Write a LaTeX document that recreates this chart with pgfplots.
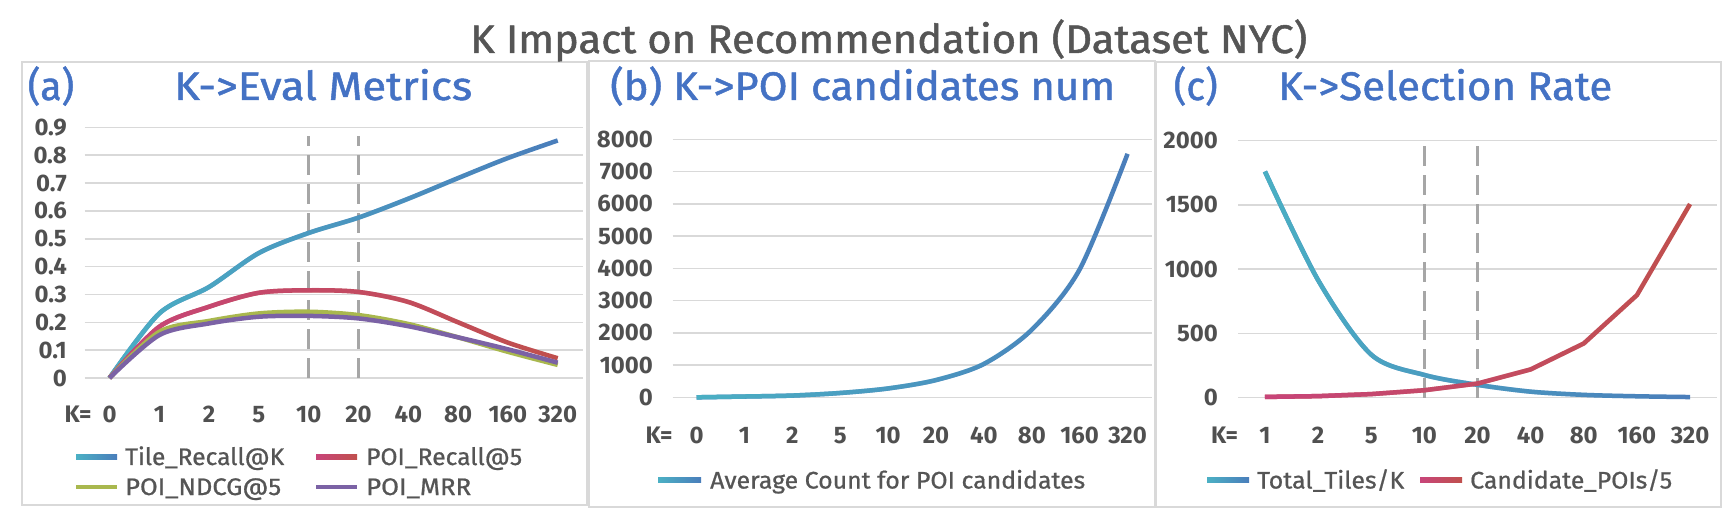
\documentclass[border=0pt]{standalone}
\usepackage{pgfplots}
\pgfplotsset{compat=1.18}
\usepackage{fontspec}
\setmainfont{Fira Sans}
\newfontfamily\medfont[FakeBold=1.2]{Fira Sans}
\newfontfamily\legfont[FakeBold=0.8]{Fira Sans}
\usetikzlibrary{fadings}
\newlength\fitlen
\DeclareRobustCommand\fitw[2]{\settowidth\fitlen{#2}\pgfmathsetmacro\fitr{#1/\fitlen}\scalebox{\fitr}[1]{#2}}
\definecolor{titlegray}{HTML}{555555}
\definecolor{tickgray}{HTML}{505050}
\definecolor{gridgray}{HTML}{D9D9D9}
\definecolor{ttlblue}{HTML}{4472C4}
\definecolor{tealc}{HTML}{4BB0C4}
\definecolor{bluec}{HTML}{4A7EBB}
\definecolor{pinkc}{HTML}{C8457A}
\definecolor{redc}{HTML}{C0504D}
\definecolor{olivec}{HTML}{A9B84E}
\definecolor{purplec}{HTML}{7B62A5}
\definecolor{dashgray}{HTML}{A6A6A6}
\pgfplotsset{
  myaxis/.style={
    scale only axis, anchor=south west, clip=false,
    axis line style={draw=none},
    ymajorgrids, grid style={gridgray, line width=1.5bp},
    major tick length=0pt, tick style={draw=none},
    ticklabel style={font=\fontsize{24}{28}\selectfont\bfseries, text=tickgray},
    /pgf/number format/assume math mode=true,
    xticklabel style={anchor=base, inner sep=0pt},
    yticklabel style={anchor=east, inner sep=0pt},
  },
  curve/.style={line width=4.5bp, smooth},
  dashv/.style={dashgray, line width=2.5bp, dash pattern=on 20bp off 9bp, forget plot},
}
\begin{document}
\begin{tikzpicture}
\fill[white] (0bp,0bp) rectangle (1727bp,511bp);
\path[use as bounding box] (0bp,0bp) rectangle (1727bp,511bp);
% panel frames
\draw[gridgray, line width=1.5bp] (22bp,449bp) rectangle (587bp,6bp);
\draw[gridgray, line width=1.5bp] (589bp,450bp) rectangle (1155bp,4bp);
\draw[gridgray, line width=1.5bp] (1156bp,449bp) rectangle (1721bp,4bp);
% titles
\node[anchor=base west, inner sep=0pt, font=\fontsize{40}{48}\medfont, text=titlegray] at (470bp,458bp) {\fitw{837bp}{K Impact on Recommendation (Dataset NYC)}};
\begin{scope}[every node/.style={anchor=base west, inner sep=0pt, font=\fontsize{40}{48}\medfont, text=ttlblue}]
\node at (27.5bp,411bp) {\fitw{46.5bp}{(a)}};
\node at (174bp,411bp) {\fitw{298bp}{K->Eval Metrics}};
\node at (610bp,411bp) {\fitw{505bp}{(b) K->POI candidates num}};
\node at (1173.5bp,411bp) {\fitw{44bp}{(c)}};
\node at (1278bp,411bp) {\fitw{334bp}{K->Selection Rate}};
\end{scope}
\begin{scope}[every node/.style={anchor=base, inner sep=0pt, font=\fontsize{24}{28}\selectfont\bfseries, text=tickgray}]
\node at (78bp,88.5bp) {K=};
\node at (659bp,67.5bp) {K=};
\node at (1224.5bp,67.5bp) {K=};
\end{scope}
% legends
\begin{scope}[every node/.style={anchor=base west, inner sep=0pt, font=\fontsize{24}{28}\legfont, text=titlegray}]
\shade[left color=tealc, right color=bluec] (76bp,51.8bp) rectangle (117bp,56.2bp);
\node at (125bp,46bp) {\fitw{159bp}{Tile\_Recall@K}};
\shade[left color=pinkc, right color=redc] (316bp,51.8bp) rectangle (357bp,56.2bp);
\node at (366bp,46bp) {\fitw{156bp}{POI\_Recall@5}};
\fill[olivec] (76bp,21.8bp) rectangle (117bp,26.2bp);
\node at (125bp,16bp) {\fitw{156bp}{POI\_NDCG@5}};
\fill[purplec] (316bp,21.8bp) rectangle (357bp,26.2bp);
\node at (366bp,16bp) {\fitw{105bp}{POI\_MRR}};
\shade[left color=tealc, right color=bluec] (658bp,28.8bp) rectangle (701bp,33.2bp);
\node at (710bp,22.5bp) {\fitw{375bp}{Average Count for POI candidates}};
\shade[left color=tealc, right color=bluec] (1207bp,28.8bp) rectangle (1249bp,33.2bp);
\node at (1257bp,22.5bp) {\fitw{147bp}{Total\_Tiles/K}};
\shade[left color=pinkc, right color=redc] (1420bp,28.8bp) rectangle (1462bp,33.2bp);
\node at (1470bp,22.5bp) {\fitw{202bp}{Candidate\_POIs/5}};
\end{scope}

% ---------- (a)
\begin{axis}[myaxis, at={(84.6bp,133bp)}, width=498bp, height=250.6bp,
  xmin=-0.5, xmax=9.5, ymin=0, ymax=0.9,
  xtick={0,...,9}, xticklabels={0,1,2,5,10,20,40,80,160,320},
  ytick={0,0.1,0.2,0.3,0.4,0.5,0.6,0.7,0.8,0.9},
  yticklabels={0,0.1,0.2,0.3,0.4,0.5,0.6,0.7,0.8,0.9},
  xticklabel style={yshift=-44.5bp}, yticklabel style={xshift=-17.6bp}]
\addplot[dashv] coordinates {(4,0) (4,0.87)};
\addplot[dashv] coordinates {(5,0) (5,0.87)};
\addplot[curve, bluec] coordinates {(0,0) (1,0.232) (2,0.327) (3,0.449) (4,0.521) (5,0.576) (6,0.644) (7,0.718) (8,0.79) (9,0.853)};
\addplot[curve, tealc, path fading=east, forget plot] coordinates {(0,0) (1,0.232) (2,0.327) (3,0.449) (4,0.521) (5,0.576) (6,0.644) (7,0.718) (8,0.79) (9,0.853)};
\addplot[curve, redc] coordinates {(0,0) (1,0.184) (2,0.256) (3,0.306) (4,0.315) (5,0.309) (6,0.273) (7,0.2) (8,0.127) (9,0.071)};
\addplot[curve, pinkc, path fading=east, forget plot] coordinates {(0,0) (1,0.184) (2,0.256) (3,0.306) (4,0.315) (5,0.309) (6,0.273) (7,0.2) (8,0.127) (9,0.071)};
\addplot[curve, olivec] coordinates {(0,0) (1,0.166) (2,0.205) (3,0.232) (4,0.238) (5,0.226) (6,0.194) (7,0.146) (8,0.094) (9,0.047)};
\addplot[curve, purplec] coordinates {(0,0) (1,0.154) (2,0.196) (3,0.22) (4,0.223) (5,0.214) (6,0.186) (7,0.146) (8,0.103) (9,0.055)};
\end{axis}

% ---------- (b)
\begin{axis}[myaxis, at={(672.7bp,113.5bp)}, width=478.8bp, height=258.2bp,
  xmin=-0.5, xmax=9.5, ymin=0, ymax=8000,
  xtick={0,...,9}, xticklabels={0,1,2,5,10,20,40,80,160,320},
  ytick={0,1000,2000,3000,4000,5000,6000,7000,8000},
  yticklabels={0,1000,2000,3000,4000,5000,6000,7000,8000},
  xticklabel style={yshift=-46bp}, yticklabel style={xshift=-19.7bp}]
\addplot[curve, bluec] coordinates {(0,5) (1,30) (2,60) (3,140) (4,280) (5,540) (6,1040) (7,2100) (8,3970) (9,7550)};
\addplot[curve, tealc, path fading=east, forget plot] coordinates {(0,5) (1,30) (2,60) (3,140) (4,280) (5,540) (6,1040) (7,2100) (8,3970) (9,7550)};
\end{axis}

% ---------- (c)
\begin{axis}[myaxis, at={(1238.4bp,113.3bp)}, width=478.2bp, height=257bp,
  xmin=-0.5, xmax=8.5, ymin=0, ymax=2000,
  xtick={0,...,8}, xticklabels={1,2,5,10,20,40,80,160,320},
  ytick={0,500,1000,1500,2000}, yticklabels={0,500,1000,1500,2000},
  xticklabel style={yshift=-46bp}, yticklabel style={xshift=-20.4bp}]
\addplot[dashv] coordinates {(3,0) (3,2010)};
\addplot[dashv] coordinates {(4,0) (4,2010)};
\addplot[curve, bluec] coordinates {(0,1760) (1,915) (2,335) (3,177) (4,100) (5,47) (6,22) (7,11) (8,5)};
\addplot[curve, tealc, path fading=east, forget plot] coordinates {(0,1760) (1,915) (2,335) (3,177) (4,100) (5,47) (6,22) (7,11) (8,5)};
\addplot[line width=4.5bp, redc] coordinates {(0,6) (1,12) (2,28) (3,58) (4,110) (5,220) (6,422) (7,798) (8,1507)};
\addplot[line width=4.5bp, pinkc, path fading=east, forget plot] coordinates {(0,6) (1,12) (2,28) (3,58) (4,110) (5,220) (6,422) (7,798) (8,1507)};
\end{axis}
\end{tikzpicture}
\end{document}
